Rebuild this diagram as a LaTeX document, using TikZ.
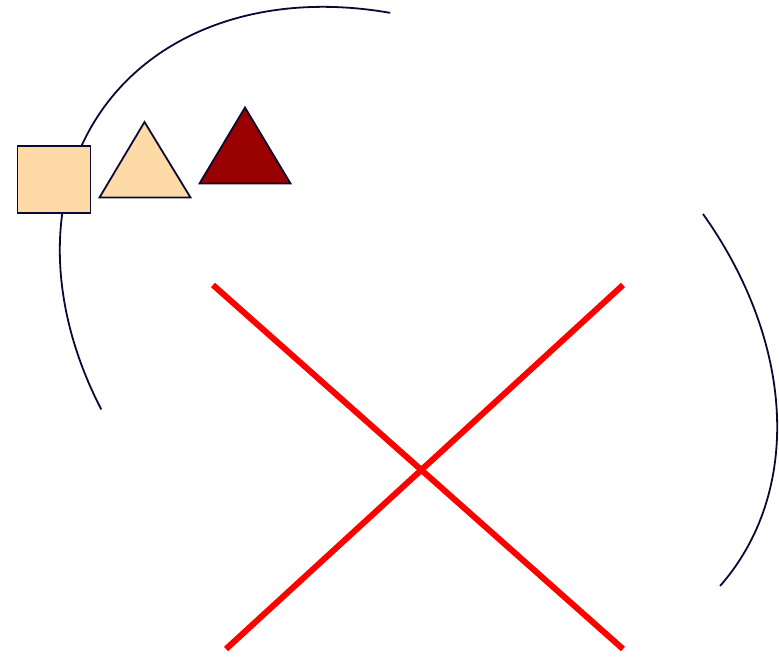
\documentclass[tikz,border=0pt]{standalone}
\definecolor{edgeblue}{RGB}{12,8,52}
\definecolor{peach}{RGB}{254,218,166}
\definecolor{darkred}{RGB}{153,0,0}
\tikzset{
  arcline/.style={draw=edgeblue, line width=1.8pt},
  shapeline/.style={draw=edgeblue, line width=1.8pt, line join=miter},
  crossline/.style={draw=red, line width=6pt}
}
\begin{document}
\begin{tikzpicture}[x=1pt,y=-1pt]
\useasboundingbox (0,0) rectangle (779,656);
% tilted ellipse, drawn in two pieces
\begin{scope}[shift={(418.5,338.5)}, x={(0.8007pt,-0.5991pt)}, y={(-0.5991pt,-0.8007pt)}]
  \coordinate (la0) at (236.1:390.4 and 293.7);
  \coordinate (ra0) at (293.1:390.4 and 293.7);
  \draw[arcline] (la0) arc[start angle=236.1, end angle=122.8, x radius=390.4, y radius=293.7];
  \draw[arcline] (ra0) arc[start angle=293.1, end angle=363.4, x radius=390.4, y radius=293.7];
\end{scope}
% shapes
\draw[shapeline, fill=peach] (17.5,146) rectangle (90.5,213);
\draw[shapeline, fill=peach] (99.5,197.5) -- (190.5,197.5) -- (144.5,122) -- cycle;
\draw[shapeline, fill=darkred] (199.5,183.5) -- (290.5,183.5) -- (245,107.5) -- cycle;
% red cross
\coordinate (a1) at (213,285);
\coordinate (a2) at (623,649);
\coordinate (b1) at (226,649);
\coordinate (b2) at (623,285);
\draw[crossline] (a1) -- (a2);
\draw[crossline] (b1) -- (b2);
\end{tikzpicture}
\end{document}
